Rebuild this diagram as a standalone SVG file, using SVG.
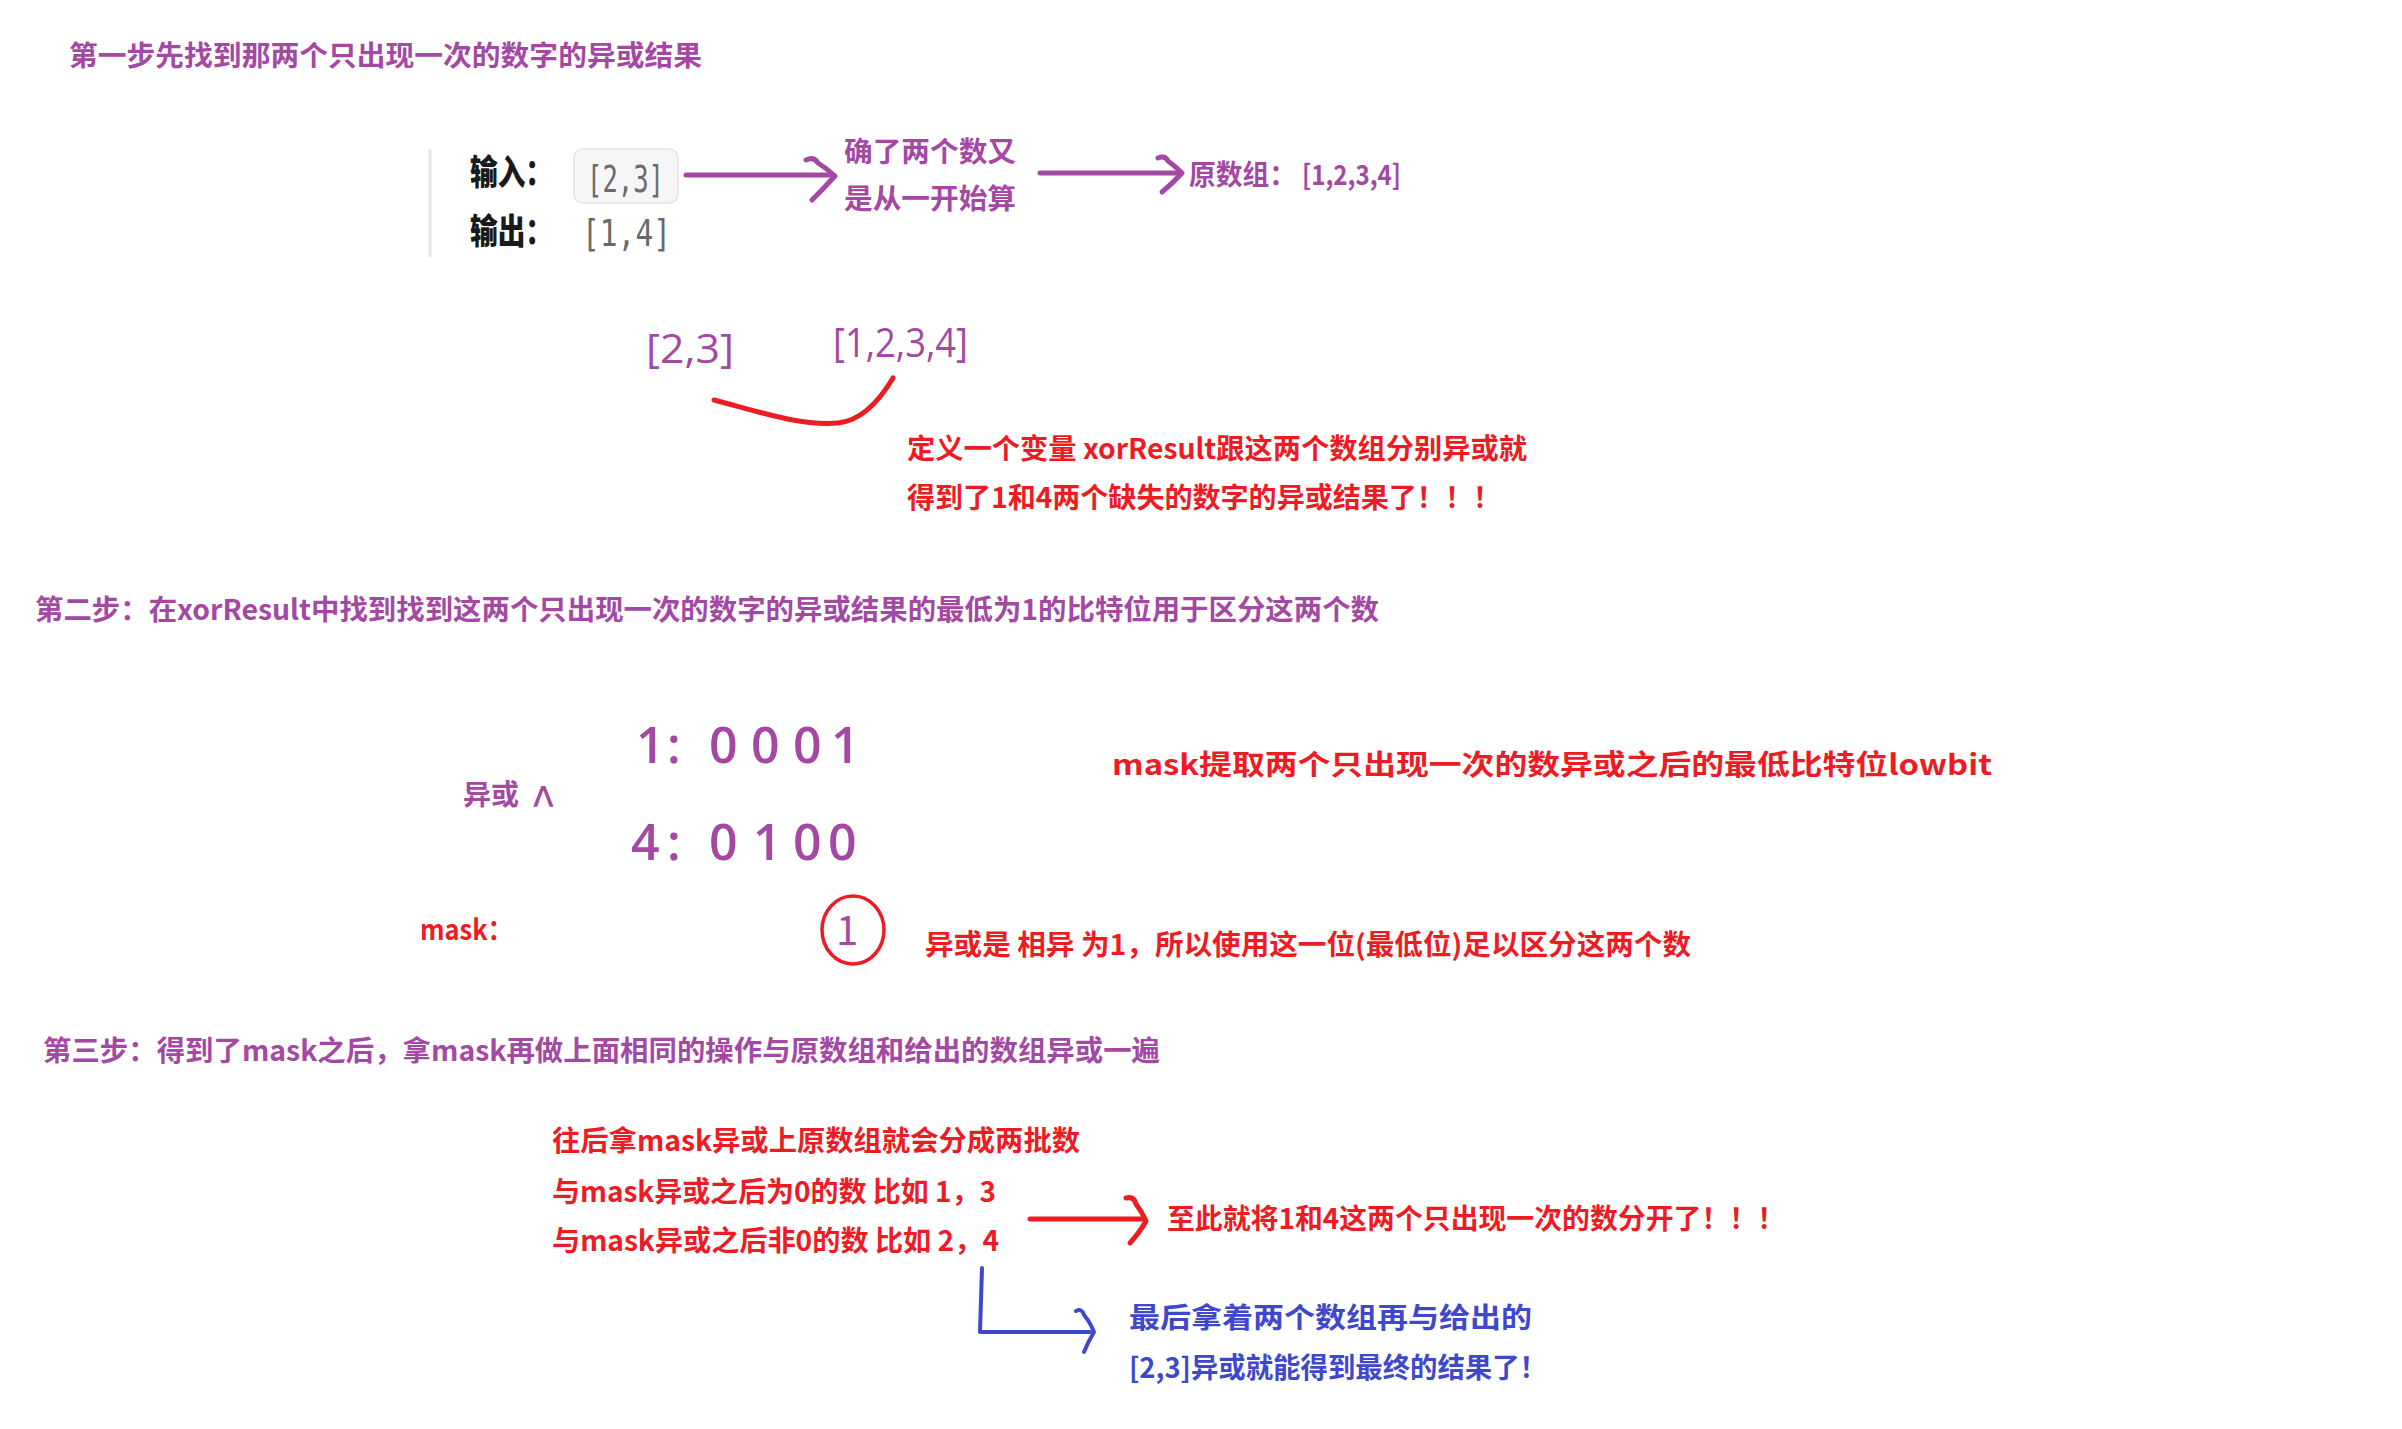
<svg xmlns="http://www.w3.org/2000/svg" width="2402" height="1429" viewBox="0 0 2402 1429">
<style>
text{font-family:"Noto Sans CJK SC","Noto Sans",sans-serif;}
.p{fill:#A349A4;font-weight:bold;font-size:28px;}
.r{fill:#ED1C24;font-weight:bold;font-size:28px;}
.b{fill:#3F48CC;font-weight:bold;font-size:28px;}
.k{fill:#1a1a1a;font-weight:900;font-size:35px;}
.g{fill:#6a6a6a;font-family:"DejaVu Sans Mono","Liberation Mono",monospace;font-size:38px;}
.big{fill:#A349A4;font-family:"Open Sans","Liberation Sans",sans-serif;font-size:40px;}
.bits{fill:#A349A4;font-family:"Open Sans","Liberation Sans",sans-serif;font-weight:600;font-size:50px;}
.lp{fill:none;stroke:#A349A4;stroke-width:5;stroke-linecap:round;stroke-linejoin:round;}
.lr{fill:none;stroke:#ED1C24;stroke-width:5;stroke-linecap:round;stroke-linejoin:round;}
.lb{fill:none;stroke:#3F48CC;stroke-width:4;stroke-linecap:round;stroke-linejoin:round;}
</style>
<rect width="2402" height="1429" fill="#fff"/>

<g id="title1"><text class="p" x="69" y="66" textLength="633" lengthAdjust="spacingAndGlyphs">第一步先找到那两个只出现一次的数字的异或结果</text></g>

<g id="example">
<line x1="430" y1="149" x2="430" y2="257" stroke="#e6e6e6" stroke-width="3"/>
<text class="k" x="470" y="185" textLength="83" lengthAdjust="spacingAndGlyphs">输入：</text>
<rect x="574" y="149" width="104" height="54" rx="9" fill="#f6f6f7" stroke="#e4e4e7" stroke-width="1.5"/>
<text class="g" x="587" y="192" textLength="77" lengthAdjust="spacingAndGlyphs">[2,3]</text>
<text class="k" x="470" y="244" textLength="83" lengthAdjust="spacingAndGlyphs">输出：</text>
<text class="g" x="582" y="246" textLength="89" lengthAdjust="spacingAndGlyphs">[1,4]</text>
</g>

<g id="note-index"><text class="p" x="844" y="162" textLength="172" lengthAdjust="spacingAndGlyphs">确了两个数又</text><text class="p" x="844" y="209" textLength="172" lengthAdjust="spacingAndGlyphs">是从一开始算</text></g>

<g id="orig-array"><text class="p" x="1189" y="185" font-size="26" textLength="107" lengthAdjust="spacingAndGlyphs">原数组：</text><text class="p" x="1302" y="185" font-size="26" font-weight="normal" textLength="99" lengthAdjust="spacingAndGlyphs">[1,2,3,4]</text></g>

<g id="arr23"><text class="big" x="646" y="363" textLength="88" lengthAdjust="spacingAndGlyphs">[2,3]</text></g>
<g id="arr1234"><text class="big" x="833" y="357" textLength="135" lengthAdjust="spacingAndGlyphs">[1,2,3,4]</text></g>

<g id="note-xor">
<text class="r" x="907" y="459" textLength="620" lengthAdjust="spacingAndGlyphs">定义一个变量 xorResult跟这两个数组分别异或就</text>
<text class="r" x="907" y="508" textLength="594" lengthAdjust="spacingAndGlyphs">得到了1和4两个缺失的数字的异或结果了！！！</text>
</g>

<g id="title2"><text class="p" x="35" y="620" textLength="1344" lengthAdjust="spacingAndGlyphs">第二步：在xorResult中找到找到这两个只出现一次的数字的异或结果的最低为1的比特位用于区分这两个数</text></g>

<g id="bits">
<text class="bits" x="636 667 690 709 751 793 831" y="763">1: 0001</text>
<text class="p" x="463" y="805" font-size="27">异或 <tspan x="530" font-weight="normal" font-size="48" dy="17">^</tspan></text>
<text class="bits" x="631 667 690 709 753 793 828" y="860">4: 0100</text>
</g>

<g id="note-lowbit"><text class="r" x="1112" y="775" font-size="32" textLength="880" lengthAdjust="spacingAndGlyphs">mask提取两个只出现一次的数异或之后的最低比特位lowbit</text></g>

<g id="mask">
<text class="r" x="420" y="940" font-weight="normal" textLength="93" lengthAdjust="spacingAndGlyphs">mask：</text>
<ellipse cx="853" cy="930" rx="31" ry="34" fill="none" stroke="#ED1C24" stroke-width="3.5"/>
<text x="847" y="945" fill="#A349A4" font-family="Open Sans, Liberation Sans, sans-serif" font-size="40" text-anchor="middle">1</text>
</g>

<g id="note-diff"><text class="r" x="925" y="955" textLength="766" lengthAdjust="spacingAndGlyphs">异或是 相异 为1，所以使用这一位(最低位)足以区分这两个数</text></g>

<g id="title3"><text class="p" x="43" y="1061" textLength="1117" lengthAdjust="spacingAndGlyphs">第三步：得到了mask之后，拿mask再做上面相同的操作与原数组和给出的数组异或一遍</text></g>

<g id="note-split">
<text class="r" x="552" y="1151" textLength="528" lengthAdjust="spacingAndGlyphs">往后拿mask异或上原数组就会分成两批数</text>
<text class="r" x="552" y="1202" textLength="444" lengthAdjust="spacingAndGlyphs">与mask异或之后为0的数 比如 1，3</text>
<text class="r" x="552" y="1251" textLength="447" lengthAdjust="spacingAndGlyphs">与mask异或之后非0的数 比如 2，4</text>
</g>

<g id="note-separated"><text class="r" x="1167" y="1229" textLength="618" lengthAdjust="spacingAndGlyphs">至此就将1和4这两个只出现一次的数分开了！！！</text></g>

<g id="note-final">
<text class="b" x="1129" y="1328" textLength="403" lengthAdjust="spacingAndGlyphs">最后拿着两个数组再与给出的</text>
<text class="b" x="1129" y="1378" textLength="418" lengthAdjust="spacingAndGlyphs">[2,3]异或就能得到最终的结果了！</text>
</g>

<g id="connectors">
<path class="lp" d="M686 175 L832 175"/>
<path class="lp" d="M806 160 Q814 156 818 163 Q826 168 835 176 Q824 188 812 200"/>
<path class="lp" d="M1040 173 L1178 173"/>
<path class="lp" d="M1158 158 Q1165 155 1168 161 Q1175 166 1182 173 Q1172 184 1162 192"/>
<path class="lr" d="M714 400 C760 412 800 426 838 423 Q868 420 893 378"/>
<path class="lr" d="M1030 1219 L1142 1219"/>
<path class="lr" d="M1126 1198 Q1134 1196 1136 1204 Q1142 1212 1146 1221 Q1140 1232 1130 1243"/>
<path class="lb" d="M982 1268 L980 1332 L1090 1332"/>
<path class="lb" d="M1076 1311 Q1082 1308 1084 1315 Q1090 1322 1094 1332 Q1088 1342 1084 1352"/>
</g>
</svg>
